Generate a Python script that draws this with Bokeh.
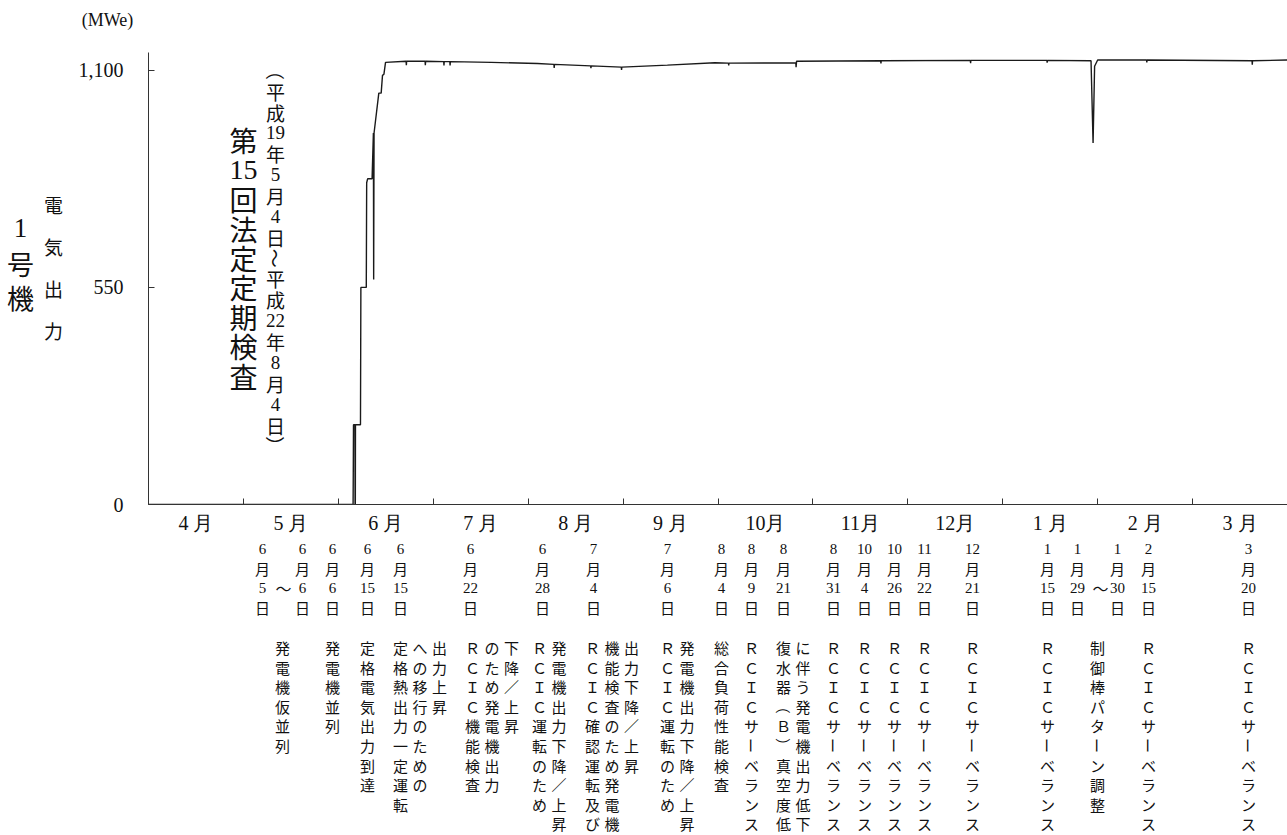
import math
import calendar
from datetime import datetime

from bokeh.plotting import figure
from bokeh.layouts import column, row
from bokeh.models import Range1d, FixedTicker, ColumnDataSource
from bokeh.embed import file_html
from bokeh.resources import INLINE

# ---------------- data ----------------
month_labels = ["4 月", "5 月", "6 月", "7 月", "8 月", "9 月",
                "10月", "11月", "12月", "1 月", "2 月", "3 月"]

times = [
    "2010-04-01 00:00", "2010-06-05 16:00", "2010-06-05 17:00", "2010-06-05 19:00",
    "2010-06-06 06:00", "2010-06-06 07:00", "2010-06-06 09:00", "2010-06-06 10:00",
    "2010-06-08 00:00", "2010-06-08 03:00", "2010-06-09 20:00", "2010-06-09 23:00",
    "2010-06-10 06:00", "2010-06-11 16:00", "2010-06-12 02:00", "2010-06-12 04:00",
    "2010-06-12 07:00", "2010-06-13 19:00", "2010-06-14 13:00", "2010-06-14 23:00",
    "2010-06-15 10:00", "2010-06-15 22:00",
    "2010-06-22 10:00", "2010-06-22 12:00", "2010-06-22 14:00",
    "2010-06-28 10:00", "2010-06-28 12:00", "2010-06-28 14:00",
    "2010-07-04 10:00", "2010-07-04 12:00", "2010-07-04 14:00",
    "2010-07-06 10:00", "2010-07-06 12:00", "2010-07-06 14:00",
    "2010-07-20 00:00", "2010-08-04 00:00",
    "2010-08-09 10:00", "2010-08-09 12:00", "2010-08-09 14:00",
    "2010-08-21 10:00", "2010-08-21 12:00", "2010-08-21 14:00",
    "2010-08-31 10:00", "2010-08-31 12:00", "2010-08-31 14:00",
    "2010-09-15 00:00", "2010-09-30 00:00",
    "2010-10-04 10:00", "2010-10-04 12:00", "2010-10-04 14:00",
    "2010-10-26 10:00", "2010-10-26 12:00", "2010-10-26 16:00",
    "2010-11-22 10:00", "2010-11-22 12:00", "2010-11-22 14:00",
    "2010-12-21 10:00", "2010-12-21 12:00", "2010-12-21 14:00",
    "2011-01-15 10:00", "2011-01-15 12:00", "2011-01-15 14:00",
    "2011-01-29 20:00", "2011-01-30 12:00", "2011-01-31 00:00", "2011-02-01 00:00",
    "2011-02-15 10:00", "2011-02-15 12:00", "2011-02-15 14:00",
    "2011-03-20 10:00", "2011-03-20 12:00", "2011-03-20 14:00",
    "2011-03-31 23:59",
]
mwe = [
    0, 0, 58, 202,
    202, 0, 0, 202,
    202, 550, 550, 815,
    825, 825, 941, 570,
    941, 1042, 1042, 1087,
    1090, 1120,
    1123, 1113, 1123,
    1123, 1113, 1123,
    1122, 1112, 1122,
    1122, 1112, 1122,
    1120, 1117,
    1115, 1106, 1115,
    1111, 1105, 1111,
    1108, 1101, 1108,
    1113, 1119,
    1118, 1112, 1118,
    1119, 1108, 1123,
    1124, 1117, 1124,
    1125, 1118, 1125,
    1125, 1119, 1125,
    1124, 916, 1110, 1126,
    1126, 1120, 1126,
    1124, 1114, 1124,
    1126,
]

y_ticks = [0, 550, 1100]
y_tick_labels = ["0", "550", "1,100"]

event_dates = ["6月5日", "6月6日", "6月6日", "6月15日", "6月15日", "6月22日", "6月28日",
               "7月4日", "7月6日", "8月4日", "8月9日", "8月21日", "8月31日", "10月4日",
               "10月26日", "11月22日", "12月21日", "1月15日", "1月29日", "1月30日",
               "2月15日", "3月20日"]
event_texts = [
    ["発電機仮並列"],
    ["発電機並列"],
    ["定格電気出力到達"],
    ["定格熱出力一定運転", "への移行のための", "出力上昇"],
    ["ＲＣＩＣ機能検査", "のため発電機出力", "下降／上昇"],
    ["ＲＣＩＣ運転のため", "発電機出力下降／上昇"],
    ["ＲＣＩＣ確認運転及び", "機能検査のため発電機", "出力下降／上昇"],
    ["ＲＣＩＣ運転のため", "発電機出力下降／上昇"],
    ["総合負荷性能検査"],
    ["ＲＣＩＣサーベランス"],
    ["復水器（Ｂ）真空度低", "に伴う発電機出力低下"],
    ["ＲＣＩＣサーベランス"],
    ["ＲＣＩＣサーベランス"],
    ["ＲＣＩＣサーベランス"],
    ["ＲＣＩＣサーベランス"],
    ["ＲＣＩＣサーベランス"],
    ["ＲＣＩＣサーベランス"],
    ["制御棒パターン調整"],
    ["ＲＣＩＣサーベランス"],
    ["ＲＣＩＣサーベランス"],
]
inspection_title = "第15回法定定期検査"
inspection_period = "（平成19年5月4日～平成22年8月4日）"
unit_name = "1号機"
y_title = "電気出力"
y_unit = "(MWe)"

# ---------------- layout constants (canvas pixels) ----------------
W, H = 1287, 835
TOP_H = 35                 # strip holding the unit text
LEFT_W = 70                # strip holding the vertical titles
FL, FT, FB = 148, 52, 506  # plot frame left / top / bottom
AX_B = 536                 # bottom of the main plot (below month labels)

date_x = [262, 302, 332, 367, 400, 470, 542, 593, 667, 721, 751, 783, 833, 864,
          894, 924, 972, 1047, 1077, 1117, 1148, 1248]
tilde_x = [283, 1100]
text_x = [282, 332, 367, 400, 472, 539, 592, 667, 721, 751, 783, 833, 864, 894,
          924, 972, 1047, 1097, 1148, 1248]
col_step = 19.5
date_row0, date_step = 548, 19.7
text_row0, text_step = 647, 19.6

SERIF = "Liberation Serif"
CJK = "Noto Sans CJK JP"
ROTATE = set("（）～ー")


def month_pos(ts):
    d = datetime.strptime(ts, "%Y-%m-%d %H:%M")
    idx = (d.year - 2010) * 12 + d.month - 4
    nd = calendar.monthrange(d.year, d.month)[1]
    return idx + (d.day - 1 + d.hour / 24 + d.minute / 1440) / nd


def tokens(s):
    out, i = [], 0
    while i < len(s):
        if s[i].isascii() and s[i].isdigit():
            j = i
            while j < len(s) and s[j].isascii() and s[j].isdigit():
                j += 1
            out.append(s[i:j])
            i = j
        else:
            out.append(s[i])
            i += 1
    return out


def new_store():
    return dict(x=[], y=[], text=[], angle=[], font=[], size=[])


def put(st, tok, px, py, size, vertical=True):
    st["x"].append(px)
    st["y"].append(py)
    st["text"].append(tok)
    st["angle"].append(-math.pi / 2 if (vertical and tok in ROTATE) else 0.0)
    st["font"].append(SERIF if tok.isascii() else CJK)
    st["size"].append(f"{size}px")


def vcol(st, s, px, py0, step, size):
    for k, tok in enumerate(tokens(s)):
        put(st, tok, px, py0 + k * step, size)


def draw_text(fig, st, **kw):
    fig.text(x="x", y="y", text="text", angle="angle", text_font="font",
             text_font_size="size", text_align="center", text_baseline="middle",
             text_color="#111", source=ColumnDataSource(st), **kw)


def text_canvas(w, h, x0, y0):
    f = figure(width=w, height=h, output_backend="svg", toolbar_location=None,
               x_range=Range1d(x0, x0 + w), y_range=Range1d(y0 + h, y0),
               x_axis_location=None, y_axis_location=None,
               min_border=0)
    f.outline_line_color = None
    f.grid.visible = False
    return f


# ---------------- main plot ----------------
p = figure(width=W - LEFT_W, height=AX_B - TOP_H, output_backend="svg",
           toolbar_location=None,
           x_range=Range1d(0, 12), y_range=Range1d(0, 1145),
           min_border_left=FL - LEFT_W, min_border_right=0,
           min_border_top=FT - TOP_H, min_border_bottom=AX_B - FB)
p.outline_line_color = None
p.grid.visible = False

xs = [month_pos(t) for t in times]
p.line(xs, mwe, line_color="#1a1a1a", line_width=1.4)

xa = p.xaxis[0]
xa.ticker = FixedTicker(ticks=[i + 0.5 for i in range(12)], minor_ticks=list(range(13)))
xa.major_label_overrides = {i + 0.5: month_labels[i] for i in range(12)}
xa.major_tick_in = 0
xa.major_tick_out = 0
xa.minor_tick_in = 6
xa.minor_tick_out = 0
xa.minor_tick_line_color = "#333"
xa.axis_line_color = "#333"
xa.major_label_standoff = 7
xa.major_label_text_font = SERIF
xa.major_label_text_font_size = "20px"
xa.major_label_text_color = "#111"

ya = p.yaxis[0]
ya.ticker = FixedTicker(ticks=y_ticks, minor_ticks=[])
ya.major_label_overrides = {t: l for t, l in zip(y_ticks, y_tick_labels)}
ya.major_tick_in = 6
ya.major_tick_out = 0
ya.minor_tick_in = 0
ya.minor_tick_out = 0
ya.major_tick_line_color = "#333"
ya.axis_line_color = "#333"
ya.major_label_standoff = 25
ya.major_label_text_font = SERIF
ya.major_label_text_font_size = "20px"
ya.major_label_text_color = "#111"

# in-plot vertical titles, placed in canvas pixels via extra ranges
p.extra_x_ranges = {"px": Range1d(FL, W)}
p.extra_y_ranges = {"py": Range1d(FB, FT)}
inplot = new_store()
vcol(inplot, inspection_title, 243, 140, 29.6, 28)
vcol(inplot, inspection_period, 275, 70, 20.95, 19)
draw_text(p, inplot, x_range_name="px", y_range_name="py")

# ---------------- top strip ----------------
top = text_canvas(W, TOP_H, 0, 0)
ts = new_store()
put(ts, y_unit, 107, 19, 18, vertical=False)
draw_text(top, ts)

# ---------------- left strip ----------------
left = text_canvas(LEFT_W, AX_B - TOP_H, 0, TOP_H)
lst = new_store()
for k, tok in enumerate(tokens(unit_name)):
    put(lst, tok, 20, 230 + k * 38.5, 27)
for k, tok in enumerate(tokens(y_title)):
    put(lst, tok, 53, 203 + k * 46.7, 19)
draw_text(left, lst)

# ---------------- bottom annotation table ----------------
bottom = text_canvas(W, H - AX_B, 0, AX_B)
bst = new_store()
for d, x in zip(event_dates, date_x):
    vcol(bst, d, x, date_row0, date_step, 15)
for x in tilde_x:
    put(bst, "～", x, date_row0 + 2 * date_step, 16, vertical=False)
for cols, x0 in zip(event_texts, text_x):
    for c, s in enumerate(cols):
        vcol(bst, s, x0 + c * col_step, text_row0, text_step, 15)
draw_text(bottom, bst)

layout = column(top, row(left, p), bottom)
open("out.html", "w").write(file_html(layout, INLINE))
